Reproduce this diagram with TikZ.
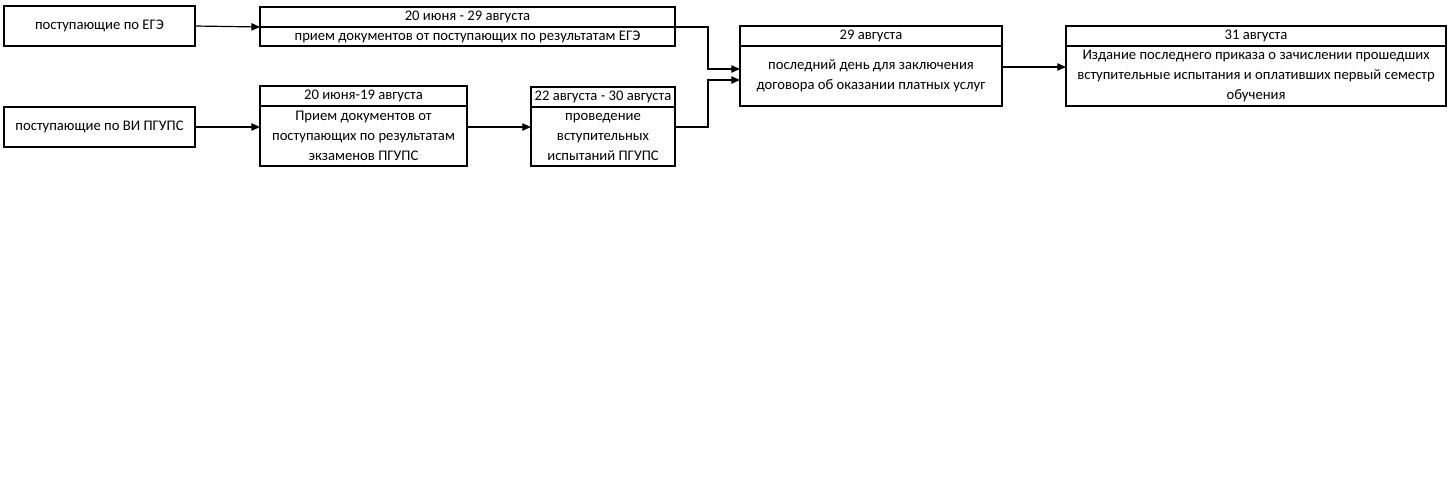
\documentclass[tikz,border=0pt]{standalone}
\usepackage{fontspec}
\setmainfont{Carlito}
\usetikzlibrary{arrows.meta}
\begin{document}
\begin{tikzpicture}[x=0.75pt,y=-0.75pt,
  box/.style={draw=black,line width=0.9pt,rectangle,inner sep=0pt,outer sep=0pt,anchor=north west,align=center,font=\fontsize{11}{15}\selectfont},
  arr/.style={draw=black,line width=0.9pt,-{Triangle[length=6.5pt,width=5.5pt]}}]
\fill[white] (0,0) rectangle (1452,500);
\useasboundingbox (0,0) rectangle (1452,500);
% left sources
\node[box,minimum width=143.25pt,minimum height=30pt] (A) at (4,6) {поступающие по ЕГЭ};
\node[box,minimum width=143.25pt,minimum height=30pt] (A2) at (4,107) {поступающие по ВИ ПГУПС};
% B
\node[box,minimum width=311.25pt,minimum height=15pt] (Bh) at (260,7) {20 июня - 29 августа};
\node[box,minimum width=311.25pt,minimum height=14.25pt] (Bb) at (260,27) {прием документов от поступающих по результатам ЕГЭ};
% C
\node[box,minimum width=155.25pt,minimum height=15pt] (Ch) at (260,86) {20 июня-19 августа};
\node[box,minimum width=155.25pt,minimum height=45pt] (Cb) at (260,106) {Прием документов от\\поступающих по результатам\\экзаменов ПГУПС};
% D
\node[box,minimum width=108pt,minimum height=15pt] (Dh) at (531,87) {22 августа - 30 августа};
\node[box,minimum width=108pt,minimum height=44.25pt] (Db) at (531,107) {проведение\\вступительных\\испытаний ПГУПС};
% E
\node[box,minimum width=196.5pt,minimum height=15pt] (Eh) at (740,26) {29 августа};
\node[box,minimum width=196.5pt,minimum height=45pt] (Eb) at (740,46) {последний день для заключения\\договора об оказании платных услуг};
% F
\node[box,minimum width=285pt,minimum height=15pt] (Fh) at (1066,26) {31 августа};
\node[box,minimum width=285pt,minimum height=45pt] (Fb) at (1066,46) {Издание последнего приказа о зачислении прошедших\\вступительные испытания и оплативших первый семестр\\обучения};
% junctions
\coordinate (m1) at (708,69);
\coordinate (m2) at (708,80);
\coordinate (m3) at (1030,67);
% connectors
\draw[arr] (A.east) -- (Bh.south west);
\draw[arr] (A2.east) -- (A2.east -| Cb.west);
\draw[arr] (Cb.east |- A2.east) -- (Db.west |- A2.east);
\draw[arr] (Bh.south east) -| (m1) -- (m1 -| Eb.west);
\draw[arr] (Db.east |- A2.east) -| (m2) -- (m2 -| Eb.west);
\draw[arr] (m3 -| Eb.east) -- (m3 -| Fb.west);
\end{tikzpicture}
\end{document}
